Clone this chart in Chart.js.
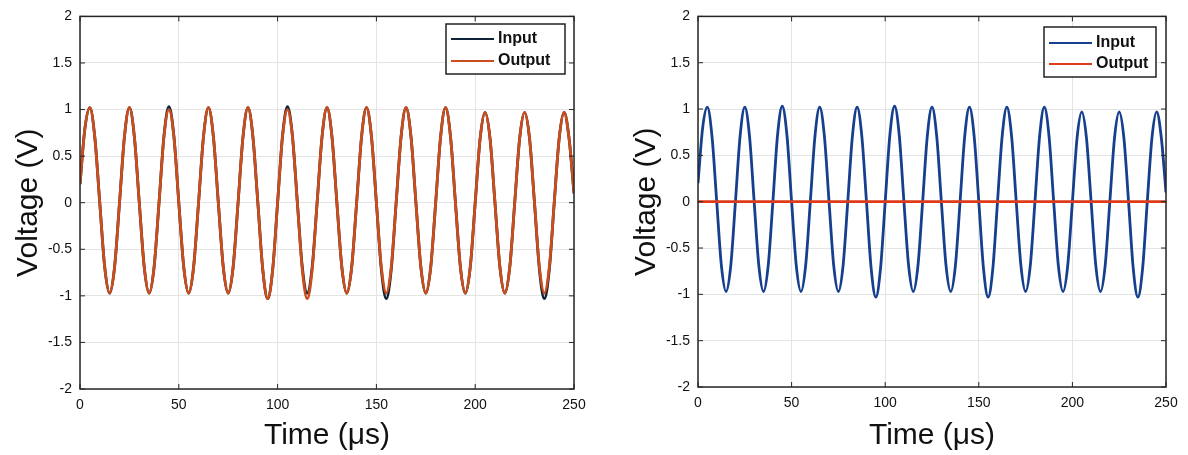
<!DOCTYPE html>
<html>
<head>
<meta charset="utf-8">
<script src="https://cdn.jsdelivr.net/npm/chart.js@4/dist/chart.umd.min.js"></script>
<style>
  html, body { margin: 0; padding: 0; background: #fff; }
  .panel { position: absolute; top: 0; width: 594px; height: 455px; }
  #leftPanel { left: 0; }
  #rightPanel { left: 594px; }
</style>
</head>
<body>
<div class="panel" id="leftPanel"><canvas id="leftChart" width="594" height="455"></canvas></div>
<div class="panel" id="rightPanel"><canvas id="rightChart" width="594" height="455"></canvas></div>
<script>
const time = [
  0, 2.5, 5, 7.5, 10, 12.5, 15, 17.5,
  20, 22.5, 25, 27.5, 30, 32.5, 35, 37.5,
  40, 42.5, 45, 47.5, 50, 52.5, 55, 57.5,
  60, 62.5, 65, 67.5, 70, 72.5, 75, 77.5,
  80, 82.5, 85, 87.5, 90, 92.5, 95, 97.5,
  100, 102.5, 105, 107.5, 110, 112.5, 115, 117.5,
  120, 122.5, 125, 127.5, 130, 132.5, 135, 137.5,
  140, 142.5, 145, 147.5, 150, 152.5, 155, 157.5,
  160, 162.5, 165, 167.5, 170, 172.5, 175, 177.5,
  180, 182.5, 185, 187.5, 190, 192.5, 195, 197.5,
  200, 202.5, 205, 207.5, 210, 212.5, 215, 217.5,
  220, 222.5, 225, 227.5, 230, 232.5, 235, 237.5,
  240, 242.5, 245, 247.5, 250
];

// input voltage (V)
const inputV = [
  0.2, 0.8, 1.02, 0.7, 0, -0.69, -0.97, -0.69,
  0, 0.71, 1.02, 0.71, 0, -0.69, -0.97, -0.69,
  0, 0.72, 1.03, 0.72, 0, -0.69, -0.97, -0.69,
  0, 0.71, 1.02, 0.71, 0, -0.69, -0.97, -0.69,
  0, 0.71, 1.02, 0.71, 0, -0.72, -1.03, -0.72,
  0, 0.72, 1.03, 0.72, 0, -0.69, -0.97, -0.69,
  0, 0.71, 1.02, 0.71, 0, -0.69, -0.97, -0.69,
  0, 0.71, 1.02, 0.71, 0, -0.72, -1.03, -0.72,
  0, 0.71, 1.02, 0.71, 0, -0.69, -0.97, -0.69,
  0, 0.71, 1.02, 0.71, 0, -0.69, -0.97, -0.69,
  0, 0.69, 0.97, 0.69, 0, -0.69, -0.97, -0.69,
  0, 0.69, 0.97, 0.69, 0, -0.72, -1.03, -0.72,
  0, 0.69, 0.97, 0.69, 0.1
];

// output voltage, left plot (follows the input)
const outputV = [
  0.2, 0.8, 1.02, 0.7, 0, -0.69, -0.97, -0.69,
  0, 0.71, 1.02, 0.71, 0, -0.69, -0.97, -0.69,
  0, 0.71, 1.0, 0.71, 0, -0.69, -0.97, -0.69,
  0, 0.71, 1.02, 0.71, 0, -0.69, -0.97, -0.69,
  0, 0.71, 1.02, 0.71, 0, -0.72, -1.03, -0.72,
  0, 0.71, 1.0, 0.71, 0, -0.72, -1.03, -0.72,
  0, 0.71, 1.02, 0.71, 0, -0.69, -0.97, -0.69,
  0, 0.71, 1.02, 0.71, 0, -0.69, -0.97, -0.69,
  0, 0.71, 1.02, 0.71, 0, -0.69, -0.97, -0.69,
  0, 0.71, 1.02, 0.71, 0, -0.69, -0.97, -0.69,
  0, 0.69, 0.97, 0.69, 0, -0.69, -0.97, -0.69,
  0, 0.69, 0.97, 0.69, 0, -0.69, -0.97, -0.69,
  0, 0.69, 0.97, 0.69, 0.1
];

// output voltage, right plot (flat at zero)
const flatTime = [0, 250];
const flatOutputV = [0, 0];

const xTicks = [0, 50, 100, 150, 200, 250];
const yTicks = [-2, -1.5, -1, -0.5, 0, 0.5, 1, 1.5, 2];
const seriesNames = ["Input", "Output"];

const FONT = "'Liberation Sans', Arial, Helvetica, sans-serif";

function toPoints(xs, ys) {
    return xs.map((x, i) => ({ x: x, y: ys[i] }));
}

// matlab-like box with inward ticks, plus legend drawn inside the plot
const boxPlugin = {
    id: "matlabBox",
    afterDraw(chart, args, opts) {
        const ctx = chart.ctx;
        const a = chart.chartArea;
        ctx.save();
        ctx.strokeStyle = "#262626";
        ctx.lineWidth = 1.5;
        ctx.strokeRect(a.left, a.top, a.right - a.left, a.bottom - a.top);

        ctx.lineWidth = 1;
        ctx.beginPath();
        xTicks.forEach((v) => {
            const px = chart.scales.x.getPixelForValue(v);
            ctx.moveTo(px, a.bottom); ctx.lineTo(px, a.bottom - 5);
            ctx.moveTo(px, a.top); ctx.lineTo(px, a.top + 5);
        });
        yTicks.forEach((v) => {
            const py = chart.scales.y.getPixelForValue(v);
            ctx.moveTo(a.left, py); ctx.lineTo(a.left + 5, py);
            ctx.moveTo(a.right, py); ctx.lineTo(a.right - 5, py);
        });
        ctx.stroke();

        // legend
        const lg = opts.legend;
        ctx.fillStyle = "#fff";
        ctx.fillRect(lg.x, lg.y, lg.w, lg.h);
        ctx.strokeStyle = "#222";
        ctx.lineWidth = 1.5;
        ctx.strokeRect(lg.x, lg.y, lg.w, lg.h);
        ctx.font = "bold 16px " + FONT;
        ctx.textBaseline = "middle";
        seriesNames.forEach((name, i) => {
            const ds = chart.data.datasets.find((d) => d.label === name);
            const ry = lg.y + lg.rowTop + i * lg.rowGap;
            ctx.strokeStyle = ds.borderColor;
            ctx.lineWidth = 2;
            ctx.beginPath();
            ctx.moveTo(lg.x + 5, ry);
            ctx.lineTo(lg.x + 48, ry);
            ctx.stroke();
            ctx.fillStyle = "#111";
            ctx.fillText(name, lg.x + 52, ry);
        });
        ctx.restore();
    }
};

function makeChart(canvasId, datasets, cfg) {
    return new Chart(document.getElementById(canvasId), {
        type: "line",
        data: { datasets: datasets },
        options: {
            responsive: false,
            animation: false,
            layout: { padding: { left: 0, top: cfg.top, right: cfg.right, bottom: 0 } },
            elements: { point: { radius: 0 } },
            plugins: {
                legend: { display: false },
                tooltip: { enabled: false },
                matlabBox: { legend: cfg.legend }
            },
            scales: {
                x: {
                    type: "linear",
                    min: 0,
                    max: 250,
                    afterFit: (s) => { s.height = cfg.xHeight; },
                    afterBuildTicks: (s) => { s.ticks = xTicks.map((v) => ({ value: v })); },
                    grid: { color: "#e4e4e4", lineWidth: 1, drawTicks: false },
                    border: { display: false },
                    ticks: {
                        padding: 8,
                        color: "#111",
                        font: { family: FONT, size: 14 },
                        maxRotation: 0,
                        callback: (v) => String(v)
                    },
                    title: {
                        display: true,
                        text: "Time (μs)",
                        color: "#111",
                        font: { family: FONT, size: 30 },
                        padding: { top: 0, bottom: cfg.xTitlePad }
                    }
                },
                y: {
                    min: -2,
                    max: 2,
                    afterFit: (s) => { s.width = cfg.yWidth; },
                    afterBuildTicks: (s) => { s.ticks = yTicks.map((v) => ({ value: v })); },
                    grid: { color: "#e4e4e4", lineWidth: 1, drawTicks: false },
                    border: { display: false },
                    ticks: {
                        padding: 8,
                        color: "#111",
                        font: { family: FONT, size: 14 },
                        callback: (v) => String(v)
                    },
                    title: {
                        display: true,
                        text: "Voltage (V)",
                        color: "#111",
                        font: { family: FONT, size: 30 },
                        padding: { top: cfg.yTitlePad, bottom: 0 }
                    }
                }
            }
        },
        plugins: [boxPlugin]
    });
}

makeChart("leftChart", [
    {
        label: "Input",
        data: toPoints(time, inputV),
        borderColor: "#0f2438",
        borderWidth: 2.8,
        cubicInterpolationMode: "monotone",
        order: 2
    },
    {
        label: "Output",
        data: toPoints(time, outputV),
        borderColor: "#cc4d1c",
        borderWidth: 2.8,
        cubicInterpolationMode: "monotone",
        order: 1
    }
], {
    top: 13, right: 20, xHeight: 66, yWidth: 80, xTitlePad: 1, yTitlePad: 11,
    legend: { x: 446, y: 24, w: 119, h: 50, rowTop: 15, rowGap: 22 }
});

makeChart("rightChart", [
    {
        label: "Input",
        data: toPoints(time, inputV),
        borderColor: "#163f8e",
        borderWidth: 2.8,
        cubicInterpolationMode: "monotone",
        order: 2
    },
    {
        label: "Output",
        data: toPoints(flatTime, flatOutputV),
        borderColor: "#dd3b1a",
        borderWidth: 2.8,
        order: 1
    }
], {
    top: 15, right: 22, xHeight: 68, yWidth: 104, xTitlePad: 1, yTitlePad: 35,
    legend: { x: 450, y: 27, w: 112, h: 50, rowTop: 16, rowGap: 21 }
});
</script>
</body>
</html>
